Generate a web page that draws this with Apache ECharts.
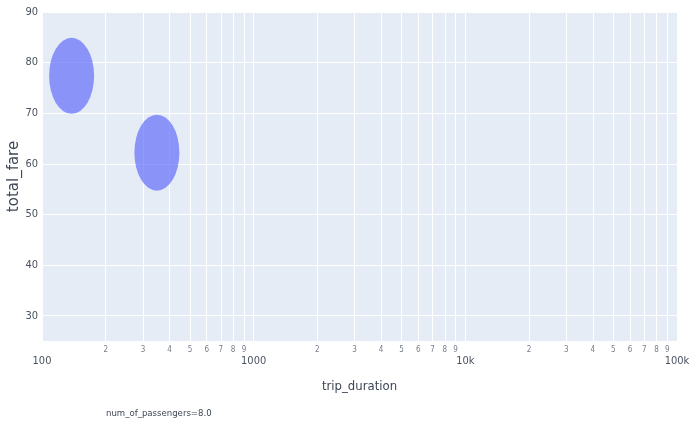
<!DOCTYPE html>
<html>
<head>
<meta charset="utf-8">
<script src="https://cdn.jsdelivr.net/npm/echarts@6/dist/echarts.min.js"></script>
<style>
  html, body { margin: 0; padding: 0; background: #fff; }
  #chart { width: 689px; height: 423px; }
</style>
</head>
<body>
<div id="chart"></div>
<script>
// Trips carrying 8 passengers: duration (log scale) vs. fare
const tripDuration = [138, 349];
const totalFare = [77.4, 62.2];

const xTickValues = [
  100, 200, 300, 400, 500, 600, 700, 800, 900,
  1000, 2000, 3000, 4000, 5000, 6000, 7000, 8000, 9000,
  10000, 20000, 30000, 40000, 50000, 60000, 70000, 80000, 90000,
  100000
];
const yTickValues = [30, 40, 50, 60, 70, 80, 90];
const facetLabel = 'num_of_passengers=8.0';

const narrow = '"Liberation Sans Narrow", "DejaVu Sans Condensed", "Liberation Sans", sans-serif';

// Powers of ten get a full label (100, 1000, 10k, 100k); the steps between them show only their leading digit
function xLabel(value) {
  const v = Math.round(value);
  const exp = Math.round(Math.log10(v));
  if (Math.abs(v - Math.pow(10, exp)) < 1e-6 * v) {
    const txt = v >= 10000 ? (v / 1000) + 'k' : String(v);
    return '{M|' + txt + '}';
  }
  const lead = Math.round(v / Math.pow(10, Math.floor(Math.log10(v))));
  return '{m|' + lead + '}';
}

const chart = echarts.init(document.getElementById('chart'), null, { renderer: 'canvas' });
chart.setOption({
  animation: false,
  backgroundColor: '#ffffff',
  grid: {
    left: 42, right: 12, top: 12, bottom: 82,
    show: true, backgroundColor: '#e5ecf6', borderWidth: 0,
    outerBoundsMode: 'none'
  },
  xAxis: {
    type: 'log',
    logBase: 10,
    min: 100,
    max: 100000,
    name: 'trip_duration',
    nameLocation: 'middle',
    nameGap: 39,
    nameMoveOverlap: false,
    nameTextStyle: { fontFamily: narrow, fontSize: 13, color: '#3d4654', verticalAlign: 'top' },
    axisLine: { show: false },
    axisTick: { show: false, customValues: xTickValues },
    splitLine: { show: true, lineStyle: { color: '#ffffff', width: 1 } },
    minorSplitLine: { show: false },
    axisLabel: {
      customValues: xTickValues,
      margin: 5,
      formatter: xLabel,
      rich: {
        M: { fontFamily: narrow, fontSize: 11, color: '#4a5260', padding: [10, 0, 0, 0] },
        m: { fontFamily: narrow, fontSize: 8, color: '#777f8a' }
      }
    }
  },
  yAxis: {
    type: 'value',
    min: 25,
    max: 90,
    name: 'total_fare',
    nameLocation: 'middle',
    nameRotate: 90,
    nameGap: 20,
    nameMoveOverlap: false,
    nameTextStyle: { fontFamily: '"DejaVu Sans", sans-serif', fontSize: 15, color: '#3d4654' },
    axisLine: { show: false },
    axisTick: { show: false, customValues: yTickValues },
    splitLine: { show: true, lineStyle: { color: '#ffffff', width: 1 } },
    axisLabel: {
      customValues: yTickValues,
      margin: 4,
      fontFamily: narrow,
      fontSize: 11,
      color: '#4a5260'
    }
  },
  graphic: [{
    type: 'text',
    left: 106,
    top: 409,
    style: { text: facetLabel, font: '9.5px ' + narrow, fill: '#3d4654' }
  }],
  series: [{
    type: 'scatter',
    data: tripDuration.map((d, i) => [d, totalFare[i]]),
    symbol: 'circle',
    symbolSize: [45, 76],
    itemStyle: { color: '#636efa', opacity: 0.7 }
  }]
});
</script>
</body>
</html>
